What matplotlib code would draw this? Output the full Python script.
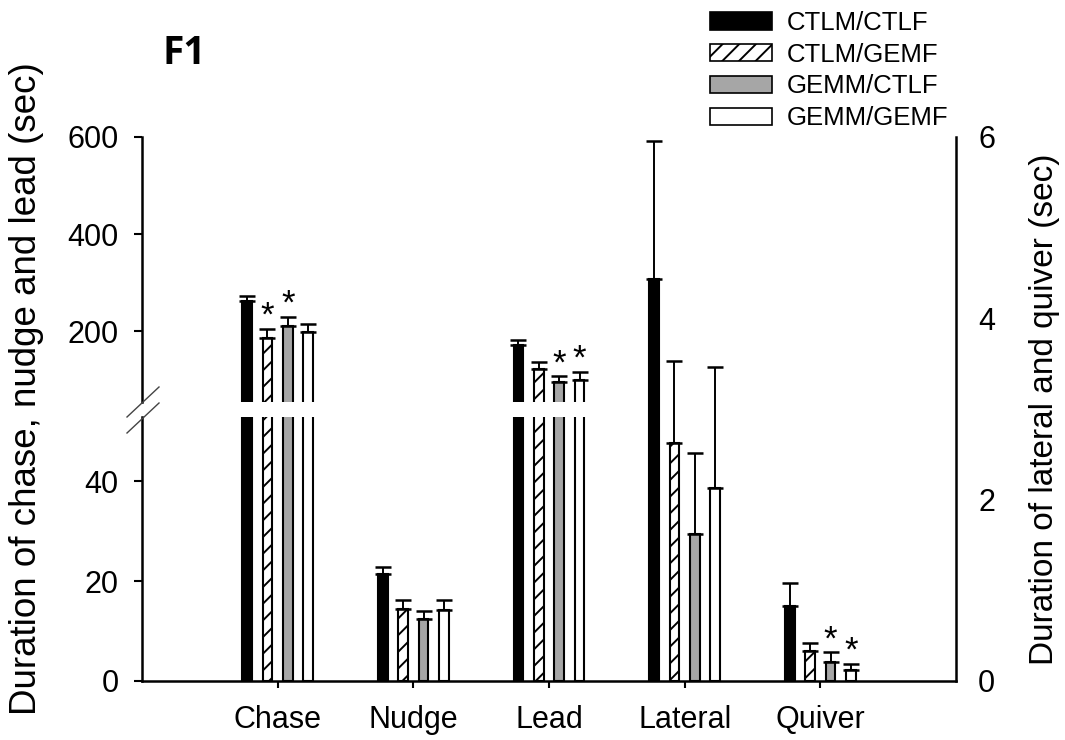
import matplotlib
matplotlib.use('Agg')
import matplotlib.pyplot as plt
from matplotlib.lines import Line2D
import numpy as np

# Data
categories = ['Chase', 'Nudge', 'Lead', 'Lateral', 'Quiver']
groups = ['CTLM/CTLF', 'CTLM/GEMF', 'GEMM/CTLF', 'GEMM/GEMF']

# left axis (sec)
chase = [263, 186, 210, 199]
chase_se = [10, 19, 20, 15]
nudge = [21.5, 14.5, 12.5, 14.3]
nudge_se = [1.4, 1.8, 1.6, 2.0]
lead = [171, 121, 96, 99]
lead_se = [10, 16, 11, 17]

# right axis (sec)
lateral = [4.43, 2.62, 1.62, 2.13]
lateral_se = [1.53, 0.91, 0.89, 1.33]
quiver = [0.83, 0.33, 0.21, 0.12]
quiver_se = [0.25, 0.09, 0.11, 0.07]

# groups marked with * for each category
signif = {'Chase': [1, 2], 'Nudge': [], 'Lead': [2, 3], 'Lateral': [], 'Quiver': [2, 3]}

faces = ['black', 'white', '#a6a6a6', 'white']
hatches = [None, '//', None, None]

plt.rcParams['font.family'] = ['Liberation Sans', 'DejaVu Sans']
plt.rcParams['hatch.linewidth'] = 1.4

W, H = 1065, 740
fig = plt.figure(figsize=(W / 100, H / 100), dpi=100)

left, right = 142 / W, 956 / W
y0, ytop = 681, 137
gap_lo, gap_hi = 417, 402
ax_bot = fig.add_axes([left, 1 - y0 / H, right - left, (y0 - gap_lo) / H])
ax_top = fig.add_axes([left, 1 - gap_hi / H, right - left, (gap_hi - ytop) / H])
ax_r = fig.add_axes([left, 1 - y0 / H, right - left, (y0 - ytop) / H])
ax_r.patch.set_alpha(0)

step = 0.15
width = 0.07
offs = (np.arange(4) - 1.5) * step
xpos = np.arange(1, 6)


def draw_group(axes, i, vals, errs, star_ax):
    for g in range(4):
        x = xpos[i] + offs[g]
        for ax in axes:
            ax.bar(x, vals[g], width, color=faces[g], edgecolor='black',
                   linewidth=1.5, hatch=hatches[g], zorder=2)
            ax.errorbar(x, vals[g], yerr=[[0], [errs[g]]], fmt='none',
                        ecolor='black', elinewidth=1.4, capsize=6,
                        capthick=1.8, zorder=3)
        if g in signif[categories[i]]:
            star_ax.annotate('*', (x, vals[g] + errs[g]), xytext=(0, -3),
                             textcoords='offset points', ha='center',
                             va='bottom', fontsize=25)


draw_group([ax_bot, ax_top], 0, chase, chase_se, ax_top)
draw_group([ax_bot], 1, nudge, nudge_se, ax_bot)
draw_group([ax_bot, ax_top], 2, lead, lead_se, ax_top)
draw_group([ax_r], 3, lateral, lateral_se, ax_r)
draw_group([ax_r], 4, quiver, quiver_se, ax_r)

for ax in (ax_bot, ax_top, ax_r):
    ax.set_xlim(0, 6)
    ax.tick_params(width=1.5, length=6, labelsize=22, pad=11)
    for s in ax.spines.values():
        s.set_linewidth(1.8)

ax_bot.set_ylim(0, 52.9)
ax_top.set_ylim(54, 600)
ax_r.set_ylim(0, 6)

ax_bot.set_yticks([0, 20, 40])
ax_top.set_yticks([200, 400, 600])
ax_r.set_yticks([0, 2, 4, 6])

ax_bot.spines[['top', 'right']].set_visible(False)
ax_top.spines[['bottom', 'top', 'right']].set_visible(False)
ax_r.spines[['bottom', 'top', 'left']].set_visible(False)

ax_bot.set_xticks(xpos)
ax_bot.set_xticklabels(categories)
ax_bot.tick_params(axis='x', length=5, pad=12)
ax_top.set_xticks([])
ax_r.set_xticks([])
ax_r.yaxis.tick_right()
ax_r.tick_params(axis='y', length=0, pad=16)

# break marks on the left axis
for yb in (417, 433):
    fig.add_artist(Line2D([127 / W, 159 / W], [1 - yb / H, 1 - (yb - 30) / H],
                          color='#444444', linewidth=1.0))

fig.text(9 / W, 1 - 389 / H, 'Duration of chase, nudge and lead (sec)',
         rotation=90, ha='left', va='center', fontsize=26.5)
fig.text(1060 / W, 1 - 409 / H, 'Duration of lateral and quiver (sec)',
         rotation=90, ha='right', va='center', fontsize=24)
fig.text(162 / W, 1 - 54 / H, 'F1', fontsize=28, fontweight='bold', va='center',
         family=['Open Sans', 'DejaVu Sans'])

handles = [plt.Rectangle((0, 0), 1, 1, facecolor=faces[g], edgecolor='black',
                         linewidth=1.2, hatch=hatches[g]) for g in range(4)]
fig.legend(handles, groups, loc='upper left', bbox_to_anchor=(692 / W, 1 + 7 / H),
           frameon=False, fontsize=18.5, handlelength=2.4, handleheight=0.65,
           labelspacing=0.3, handletextpad=0.6, borderpad=0.2)

fig.savefig('out.png', dpi=100)
